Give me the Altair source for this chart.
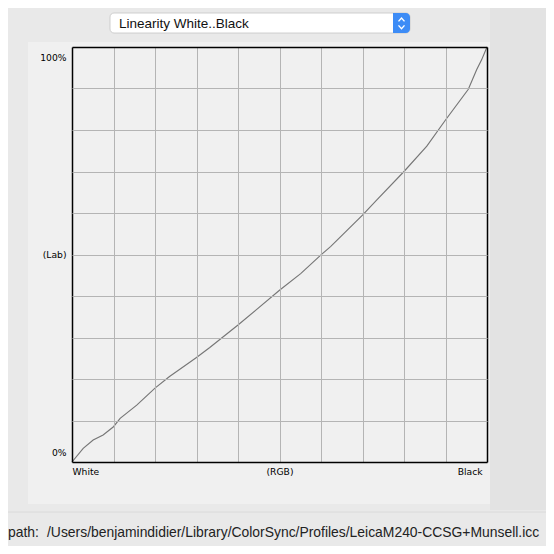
import altair as alt
import pandas as pd

# ---- data ----
rgb = [0, 2.7, 5.1, 7.5, 10, 11.6, 15.6, 20, 23.5, 25.9, 30, 33.2, 40, 44.3,
       50, 55.1, 60, 62.3, 70, 73.4, 80, 85.5, 90, 95.5, 97.5, 98.7, 100]
lab = [0, 3.3, 5.3, 6.5, 8.5, 10.5, 13.7, 17.8, 20.6, 22.3, 25.2, 27.6, 33.0, 36.6,
       41.4, 45.4, 49.9, 51.9, 59.5, 63.1, 70.0, 76.1, 82.4, 89.8, 94.5, 96.9, 100]
grid_vals = [0, 10, 20, 30, 40, 50, 60, 70, 80, 90, 100]
x_labels = ["White", "(RGB)", "Black"]
y_labels = ["0%", "(Lab)", "100%"]
menu_text = "Linearity White..Black"
path_label = "path:"
path_text = "/Users/benjamindidier/Library/ColorSync/Profiles/LeicaM240-CCSG+Munsell.icc"

df = pd.DataFrame({"rgb": rgb, "lab": lab})
one = pd.DataFrame({"k": [0]})

UI_FONT = "Liberation Sans"
AX_FONT = "DejaVu Sans"
border_test = "datum.value == 0 || datum.value == 100"

def lbl_expr(labels):
    return (f"datum.value == 0 ? '{labels[0]}' : datum.value == 50 ? '{labels[1]}' : "
            f"datum.value == 100 ? '{labels[2]}' : ''")

common = dict(
    values=grid_vals, title=None, ticks=False, domain=False, grid=True,
    gridColor={"condition": {"test": border_test, "value": "#000000"}, "value": "#b4b4b4"},
    gridWidth={"condition": {"test": border_test, "value": 1.5}, "value": 1},
    labelFont=AX_FONT, labelFontSize=9.2, labelColor="#000000",
    labelOverlap=False, labelFlush=False, labelBound=False, zindex=1,
)

x_axis = alt.Axis(
    labelExpr=lbl_expr(x_labels),
    labelAlign={"condition": [{"test": "datum.value == 0", "value": "left"},
                              {"test": "datum.value == 100", "value": "right"}],
                "value": "center"},
    labelOffset={"condition": {"test": "datum.value == 100", "value": -5}, "value": 0},
    labelPadding=5, **common)

y_axis = alt.Axis(
    labelExpr=lbl_expr(y_labels),
    labelOffset={"condition": [{"test": "datum.value == 100", "value": 10},
                               {"test": "datum.value == 0", "value": -10}],
                 "value": 0},
    labelPadding=6, **common)

# ---- window chrome ----
right_strip = alt.Chart(one).mark_rect(color="#e3e3e3").encode(
    x=alt.value(418), x2=alt.value(480), y=alt.value(-45), y2=alt.value(463))
panel = alt.Chart(one).mark_rect(color="#f0f0f0").encode(
    x=alt.value(-44), x2=alt.value(418), y=alt.value(-5), y2=alt.value(457))
sep = alt.Chart(one).mark_rule(color="#dadada").encode(
    x=alt.value(-70), x2=alt.value(480), y=alt.value(465))
menu_box = alt.Chart(one).mark_rect(
    fill="#ffffff", stroke="#c4c4c4", strokeWidth=0.8, cornerRadius=4).encode(
    x=alt.value(38), x2=alt.value(338), y=alt.value(-34), y2=alt.value(-14))
menu_btn = alt.Chart(one).mark_rect(
    fill="#3d8cf6", cornerRadiusTopRight=4, cornerRadiusBottomRight=4).encode(
    x=alt.value(321), x2=alt.value(338), y=alt.value(-34), y2=alt.value(-14))
chev_up = alt.Chart(one).mark_point(
    shape="M-1,0.55L0,-0.55L1,0.55", filled=False, stroke="#ffffff",
    strokeWidth=1.4, size=36, opacity=1).encode(x=alt.value(329.5), y=alt.value(-27.3))
chev_dn = alt.Chart(one).mark_point(
    shape="M-1,-0.55L0,0.55L1,-0.55", filled=False, stroke="#ffffff",
    strokeWidth=1.4, size=36, opacity=1).encode(x=alt.value(329.5), y=alt.value(-20))
menu_lbl = alt.Chart(one).mark_text(
    font=UI_FONT, fontSize=13.5, align="left", baseline="middle", color="#111111").encode(
    x=alt.value(47), y=alt.value(-23.5), text=alt.value(menu_text))
path_lbl = alt.Chart(one).mark_text(
    font=UI_FONT, fontSize=13.9, align="left", baseline="middle", color="#222222").encode(
    x=alt.value(-64), y=alt.value(486), text=alt.value(path_label))
path_val = alt.Chart(one).mark_text(
    font=UI_FONT, fontSize=13.9, align="left", baseline="middle", color="#222222").encode(
    x=alt.value(-25), y=alt.value(486), text=alt.value(path_text))

# ---- curve ----
curve = alt.Chart(df).mark_line(color="#767676", strokeWidth=1.15).encode(
    x=alt.X("rgb:Q", scale=alt.Scale(domain=[0, 100], nice=False, zero=True), axis=x_axis),
    y=alt.Y("lab:Q", scale=alt.Scale(domain=[0, 100], nice=False, zero=True), axis=y_axis),
)

chart = alt.layer(
    right_strip, panel, sep, menu_box, menu_btn, chev_up, chev_dn, menu_lbl,
    path_lbl, path_val, curve
).properties(
    width=415, height=415,
    autosize=alt.AutoSizeParams(type="none"),
    padding={"left": 64, "top": 39, "right": 59, "bottom": 84},
    background="#e9e9e9",
).configure_view(fill="#f0f0f0", stroke="transparent")

chart.save("out.html", embed_options={"renderer": "svg", "actions": False})
